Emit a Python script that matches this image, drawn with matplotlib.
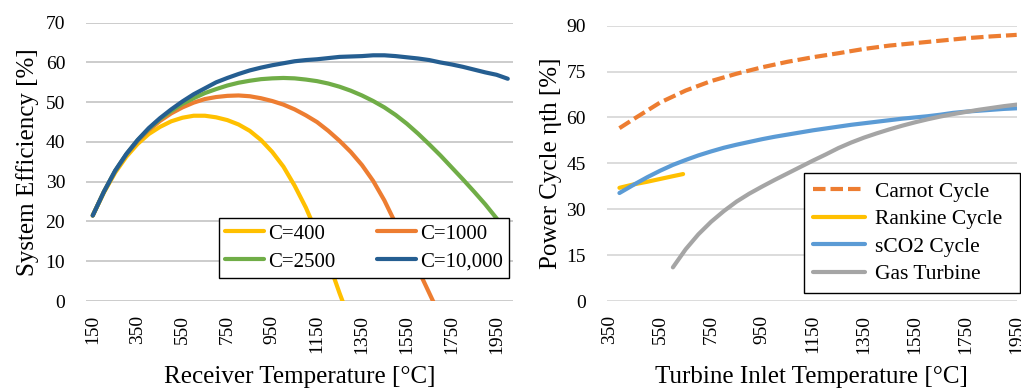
import matplotlib
matplotlib.use("Agg")
import matplotlib.pyplot as plt

# ---------------- Left chart data ----------------
receiver_temp = [150, 200, 250, 300, 350, 400, 450, 500, 550, 600, 650, 700, 750, 800,
                 850, 900, 950, 1000, 1050, 1100, 1150, 1200, 1250, 1300, 1350, 1400,
                 1450, 1500, 1550, 1600, 1650, 1700, 1750, 1800, 1850, 1900, 1950, 2000]

eff_c400 = [21.5, 27.3, 32.3, 36.3, 39.5, 42.0, 43.8, 45.2, 46.1, 46.6, 46.6, 46.2,
            45.5, 44.4, 42.8, 40.5, 37.5, 33.8, 29.0, 23.5, 17.0, 10.0, 2.0, -5.5]
eff_c1000 = [21.5, 27.5, 32.6, 36.8, 40.2, 43.0, 45.3, 47.2, 48.7, 49.9, 50.8, 51.3,
             51.6, 51.7, 51.5, 51.0, 50.3, 49.4, 48.2, 46.7, 45.0, 42.8, 40.3, 37.5,
             34.2, 30.2, 25.3, 19.5, 14.0, 8.0, 2.0, -4.0]
eff_c2500 = [21.5, 27.5, 32.7, 36.9, 40.4, 43.3, 45.8, 47.8, 49.6, 51.0, 52.3, 53.3,
             54.2, 54.9, 55.4, 55.8, 56.0, 56.1, 56.0, 55.7, 55.3, 54.7, 53.9, 52.9,
             51.7, 50.3, 48.7, 46.8, 44.6, 42.1, 39.4, 36.6, 33.6, 30.6, 27.5, 24.3,
             20.8, 17.0]
eff_c10000 = [21.5, 27.5, 32.8, 37.0, 40.5, 43.5, 46.0, 48.2, 50.2, 52.0, 53.5, 55.0,
              56.1, 57.1, 58.0, 58.7, 59.3, 59.8, 60.3, 60.6, 60.8, 61.1, 61.4, 61.5,
              61.6, 61.8, 61.8, 61.6, 61.3, 61.0, 60.6, 60.0, 59.5, 58.9, 58.2, 57.5,
              56.9, 55.9]

left_labels = ["C=400", "C=1000", "C=2500", "C=10,000"]
left_colors = ["#FFC000", "#ED7D31", "#70AD47", "#255E91"]
left_xticks = [150, 350, 550, 750, 950, 1150, 1350, 1550, 1750, 1950]
left_yticks = [0, 10, 20, 30, 40, 50, 60, 70]

# ---------------- Right chart data ----------------
carnot_t = [390, 450, 550, 650, 750, 850, 950, 1050, 1150, 1250, 1350, 1450, 1550,
            1650, 1750, 1850, 1950]
carnot_eff = [56.5, 59.7, 64.9, 68.8, 71.9, 74.3, 76.4, 78.2, 79.7, 81.0, 82.4, 83.5,
              84.3, 85.1, 85.9, 86.5, 87.0]

rankine_t = [390, 450, 500, 550, 600, 640]
rankine_eff = [37.0, 38.2, 39.0, 39.9, 40.8, 41.5]

sco2_t = [390, 450, 500, 550, 600, 650, 700, 750, 800, 850, 900, 950, 1000, 1050, 1100,
          1150, 1200, 1250, 1300, 1350, 1400, 1450, 1500, 1550, 1600, 1650, 1700, 1750,
          1800, 1850, 1900, 1950]
sco2_eff = [35.3, 38.2, 40.5, 42.6, 44.5, 46.1, 47.6, 48.9, 50.1, 51.1, 52.0, 52.9,
            53.7, 54.4, 55.1, 55.8, 56.4, 57.0, 57.6, 58.1, 58.6, 59.1, 59.6, 60.0,
            60.4, 60.9, 61.5, 61.9, 62.2, 62.5, 62.8, 63.0]

gas_t = [600, 650, 700, 750, 800, 850, 900, 950, 1000, 1050, 1100, 1150, 1200, 1250,
         1300, 1350, 1400, 1450, 1500, 1550, 1600, 1650, 1700, 1750, 1800, 1850, 1900,
         1950]
gas_eff = [11.0, 16.9, 21.8, 25.9, 29.4, 32.5, 35.1, 37.4, 39.6, 41.7, 43.8, 45.9,
           47.9, 50.0, 51.8, 53.4, 54.8, 56.1, 57.3, 58.4, 59.4, 60.3, 61.1, 61.8,
           62.5, 63.1, 63.7, 64.2]

right_labels = ["Carnot Cycle", "Rankine Cycle", "sCO2 Cycle", "Gas Turbine"]
right_colors = ["#ED7D31", "#FFC000", "#5B9BD5", "#A5A5A5"]
right_xticks = [350, 550, 750, 950, 1150, 1350, 1550, 1750, 1950]
right_yticks = [0, 15, 30, 45, 60, 75, 90]

# ---------------- Figure ----------------
plt.rcParams["font.family"] = ["Liberation Serif", "DejaVu Serif"]
W, H = 1021, 389
fig = plt.figure(figsize=(W / 100, H / 100), dpi=100)

TICK_FS = 14
LABEL_FS = 18
LW = 3.0

# Left axes
axL = fig.add_axes([86 / W, 1 - 301 / H, (512.7 - 86) / W, (301 - 22.7) / H])
lines = []
for y, lab, col in zip([eff_c400, eff_c1000, eff_c2500, eff_c10000], left_labels, left_colors):
    ln, = axL.plot(receiver_temp[:len(y)], y, color=col, lw=LW, label=lab,
                   solid_capstyle="round", zorder=3)
    lines.append(ln)
axL.set_xlim(120, 2022)
axL.set_ylim(0, 70)
axL.set_xticks(left_xticks)
axL.set_xticklabels([str(v) for v in left_xticks], rotation=90)
axL.set_yticks(left_yticks)
axL.grid(axis="y", color="#C8C8C8", lw=1.3)
axL.set_axisbelow(True)
for s in axL.spines.values():
    s.set_visible(False)
axL.tick_params(length=0, labelsize=TICK_FS)
axL.tick_params(axis="x", pad=10)
axL.tick_params(axis="y", pad=15)
axL.set_xlabel("Receiver Temperature [°C]", fontsize=LABEL_FS, labelpad=9)
axL.set_ylabel("System Efficiency [%]", fontsize=LABEL_FS, labelpad=5)
order = [0, 2, 1, 3]  # row-wise reading: 400, 1000 / 2500, 10,000
legL = axL.legend([lines[i] for i in order], [left_labels[i] for i in order],
                  ncol=2, loc="lower left", bbox_to_anchor=(0.312, 0.083, 0.68, 0.233),
                  mode="expand", fontsize=15, frameon=True, fancybox=False,
                  edgecolor="black", framealpha=1, handlelength=1.85,
                  handletextpad=0.2, labelspacing=0.4, borderpad=0.3,
                  columnspacing=1.0, borderaxespad=0)
legL.get_frame().set_linewidth(1.0)

# Right axes
axR = fig.add_axes([606.7 / W, 1 - 301 / H, (1016.7 - 606.7) / W, (301 - 25.7) / H])
axR.plot(carnot_t, carnot_eff, color=right_colors[0], lw=LW, label=right_labels[0],
         linestyle=(0, (3.0, 1.2)), dash_capstyle="butt", zorder=3)
axR.plot(rankine_t, rankine_eff, color=right_colors[1], lw=LW, label=right_labels[1],
         solid_capstyle="round", zorder=3)
axR.plot(sco2_t, sco2_eff, color=right_colors[2], lw=LW, label=right_labels[2],
         solid_capstyle="round", zorder=3)
axR.plot(gas_t, gas_eff, color=right_colors[3], lw=LW, label=right_labels[3],
         solid_capstyle="round", zorder=3)
axR.set_xlim(340, 1950)
axR.set_ylim(0, 90)
axR.set_xticks(right_xticks)
axR.set_xticklabels([str(v) for v in right_xticks], rotation=90)
axR.set_yticks(right_yticks)
axR.grid(axis="y", color="#D9D9D9", lw=1.3)
axR.set_axisbelow(True)
for s in axR.spines.values():
    s.set_visible(False)
axR.tick_params(length=0, labelsize=TICK_FS)
axR.tick_params(axis="x", pad=10)
axR.tick_params(axis="y", pad=15)
axR.set_xlabel("Turbine Inlet Temperature [°C]", fontsize=LABEL_FS, labelpad=9)
axR.set_ylabel("Power Cycle ηth [%]", fontsize=LABEL_FS, labelpad=3)
legR = axR.legend(loc="lower left", bbox_to_anchor=(0.481, 0.029, 0.528, 0.443),
                  mode="expand", fontsize=15.5, frameon=True, fancybox=False,
                  edgecolor="black", framealpha=1, handlelength=2.45,
                  handletextpad=0.45, labelspacing=0.35, borderpad=0.4,
                  borderaxespad=0)
legR.get_frame().set_linewidth(1.0)

fig.savefig("out.png", dpi=100)
